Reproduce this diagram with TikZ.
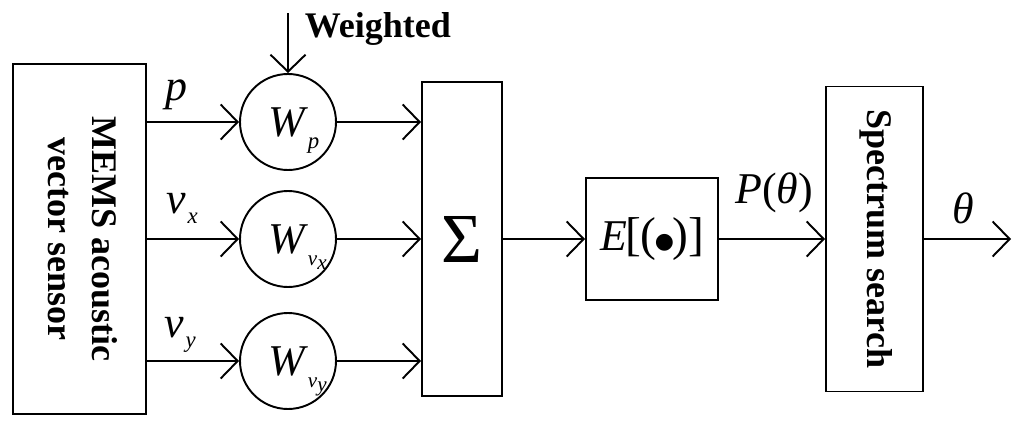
\documentclass[tikz,border=0pt]{standalone}
\usepackage{fontspec}
\setmainfont{Liberation Serif}
\newfontfamily\symfont{DejaVu Sans}
\usetikzlibrary{arrows.meta, positioning}
\newcommand{\bigsz}{\fontsize{25}{30}\selectfont}
\newcommand{\boldsz}{\fontsize{20.5}{25}\selectfont\bfseries}
\newcommand{\lowsub}[2][6.8pt]{\rlap{\raisebox{-#1}[0pt][0pt]{\fontsize{13}{15}\selectfont #2}}}
\newcommand{\wsub}[1]{\textit{W}\lowsub{#1}}
\newcommand{\vsub}[1]{\textit{v}\raisebox{-2.8pt}{\fontsize{12}{14}\selectfont\textit{#1}}}

\begin{document}
\begin{tikzpicture}[line width=1.1pt,
  >={Straight Barb[length=3.4mm,width=7mm]},
  block/.style={draw, rectangle, inner sep=0pt},
  weight/.style={draw, circle, minimum size=1.92cm, inner sep=0pt, font=\bigsz}]
\useasboundingbox (0,0) rectangle (20.48,8.56);
% Blocks
\node[block, minimum width=2.66cm, minimum height=7cm] (sensor) at (1.59,3.78) {};
\node[rotate=-90, align=center, font=\boldsz] (sensortext) at (1.66,3.78) {MEMS acoustic\\vector sensor};
\node[block, minimum width=1.6cm, minimum height=6.28cm, font=\fontsize{40}{48}\selectfont] (sigma) at (9.24,3.78) {Σ};
\node[block, minimum width=2.64cm, minimum height=2.44cm, font=\bigsz] (ebox) at (13.04,3.78)
  {\textit{E}\kern-1pt{\fontsize{27}{30}\selectfont[(}\kern-1pt\raisebox{1pt}{\symfont\fontsize{12.5}{14}\selectfont ●}\kern-1pt{\fontsize{27}{30}\selectfont)]}};
\node[block, minimum width=1.94cm, minimum height=6.1cm] (spec) at (17.49,3.78) {};
\node[rotate=-90, font=\boldsz] (spectext) at (17.52,3.78) {Spectrum search};
% Weights
\node[weight] (wp) at (5.76,6.12) {\wsub{\textit{p}}};
\node[weight] (wvx) at (5.76,3.78) {\wsub{\fontsize{12}{14}\selectfont\vsub{x}}};
\node[weight] (wvy) at (5.76,1.34) {\wsub{\fontsize{12}{14}\selectfont\vsub{y}}};
\coordinate[above=1.2cm of wp.north] (wtop);
\node[anchor=base west, font=\boldsz] (wlabel) at (5.96,7.82) {Weighted};
\coordinate (out) at (20.22,3.78);
% Connections
\draw[->] (wtop) -- (wp.north);
\draw[->] (sensor.east |- wp) -- (wp);
\draw[->] (sensor.east |- wvx) -- (wvx);
\draw[->] (sensor.east |- wvy) -- (wvy);
\draw[->] (wp) -- (wp -| sigma.west);
\draw[->] (wvx) -- (wvx -| sigma.west);
\draw[->] (wvy) -- (wvy -| sigma.west);
\draw[->] (sigma) -- (ebox);
\draw[->] (ebox) -- (spec);
\draw[->] (spec) -- (out);
% Labels
\node[anchor=base, font=\bigsz] (lp) at (3.52,6.56) {\textit{p}};
\node[anchor=base, font=\bigsz] (lvx) at (3.52,4.30) {\textit{v}\lowsub[6pt]{\hspace{1pt}\textit{x}}};
\node[anchor=base, font=\bigsz] (lvy) at (3.48,1.82) {\textit{v}\lowsub[6pt]{\hspace{1pt}\textit{y}}};
\node[anchor=base, font=\bigsz] (lP) at (15.48,4.50) {\textit{P}(\textit{θ})};
\node[anchor=base, font=\bigsz] (lth) at (19.26,4.10) {\textit{θ}};
\end{tikzpicture}
\end{document}
